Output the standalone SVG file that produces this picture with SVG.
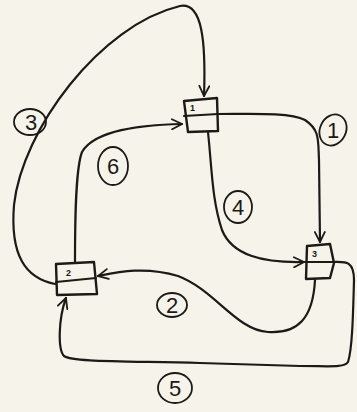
<svg xmlns="http://www.w3.org/2000/svg" width="357" height="412" viewBox="0 0 357 412">
<style>
.ln{fill:none;stroke:#1c1a17;stroke-width:2.2;stroke-linecap:round;stroke-linejoin:round}
.bx{fill:none;stroke:#1c1a17;stroke-width:2.4;stroke-linejoin:round}
.cl{fill:none;stroke:#1c1a17;stroke-width:1.8}
.nl{font-family:"Liberation Sans",Arial,sans-serif;font-size:9px;font-weight:bold;fill:#1c1a17}
.el{font-family:"Liberation Sans",Arial,sans-serif;font-size:22px;fill:#1c1a17;text-anchor:middle}
</style>
<defs>
<marker id="ah" viewBox="0 0 12 12" refX="11" refY="6" markerWidth="12" markerHeight="12" markerUnits="userSpaceOnUse" orient="auto">
<path d="M1,1 L11,6 L1,11" fill="none" stroke="#1c1a17" stroke-width="1.8" stroke-linecap="round"/>
</marker>
</defs>
<rect width="357" height="412" fill="#f6f3ea"/>
<g id="connectors">
<path class="ln" marker-end="url(#ah)" d="M55,284 C25,278 10,255 14,205 C22,130 100,25 180,6 C202,2 206,40 204,96"/>
<path class="ln" marker-end="url(#ah)" d="M218,114 C250,114 290,112 305,120 C320,130 318,140 319,160 L320,242"/>
<path class="ln" marker-end="url(#ah)" d="M208,132 C212,170 212,200 222,230 C232,255 262,263 304,262"/>
<path class="ln" marker-end="url(#ah)" d="M315,280 C313,318 298,334 268,332 C236,330 215,290 178,276 C145,266 118,272 98,276"/>
<path class="ln" marker-end="url(#ah)" d="M333,262 C345,262 354,260 354,280 C353,320 352,350 348,362 C344,368 330,366 300,366 L200,363 C120,361 72,362 64,356 C58,350 58,320 66,298"/>
<path class="ln" marker-end="url(#ah)" d="M75,263 C75,230 75,170 82,152 C95,130 140,125 182,124"/>
</g>
<g id="edge-labels">
<ellipse class="cl" cx="30" cy="122" rx="16" ry="13"/><text class="el" x="31" y="130">3</text>
<ellipse class="cl" cx="333" cy="130" rx="13" ry="16" transform="rotate(25 333 130)"/><text class="el" x="333" y="138">1</text>
<ellipse class="cl" cx="238" cy="207" rx="14" ry="16"/><text class="el" x="238" y="215">4</text>
<ellipse class="cl" cx="113" cy="166" rx="15" ry="19"/><text class="el" x="113" y="174">6</text>
<ellipse class="cl" cx="172" cy="305" rx="15" ry="12"/><text class="el" x="172" y="313">2</text>
<ellipse class="cl" cx="175" cy="388" rx="17" ry="15"/><text class="el" x="175" y="396">5</text>
</g>
<g id="node1">
<path class="bx" d="M184,101 L217,98 L218,131 L188,132 Z"/>
<path class="ln" d="M184,116 L218,114"/>
<text class="nl" x="190" y="111">1</text>
</g>
<g id="node2">
<path class="bx" d="M56,264 L94,262 L97,294 L57,295 Z"/>
<path class="ln" d="M56,282 L96,278"/>
<text class="nl" x="66" y="276">2</text>
</g>
<g id="node3">
<path class="bx" d="M307,246 L330,244 L334,263 L330,278 L306,279 Z"/>
<path class="ln" d="M305,262 L334,262"/>
<text class="nl" x="312" y="257">3</text>
</g>
</svg>
